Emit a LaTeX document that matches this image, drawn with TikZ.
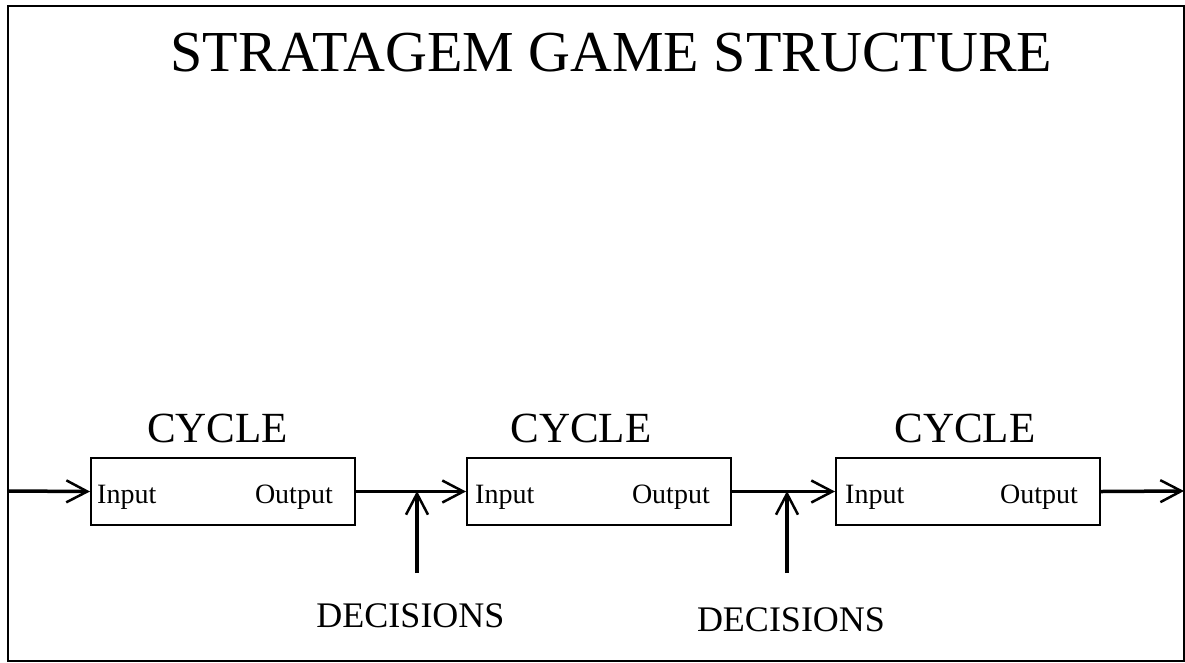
\documentclass[tikz,border=0pt]{standalone}
\usepackage{fontspec}
\setmainfont{Liberation Serif}
\usetikzlibrary{arrows.meta}
\begin{document}
\begin{tikzpicture}[x=1pt,y=-1pt,
  cyclebox/.style={draw,line width=2pt,minimum width=264pt,minimum height=67pt,inner sep=0pt},
  flow/.style={line width=3.5pt,-{Straight Barb[length=21pt,width=22pt,line width=2.5pt]}},
  lbl/.style={inner sep=0pt,font=\fontsize{28}{30}\selectfont},
  head/.style={inner sep=0pt,font=\fontsize{43}{45}\selectfont},
  dec/.style={inner sep=0pt,font=\fontsize{36}{38}\selectfont}]
\useasboundingbox (0,0) rectangle (1185,662);
\draw[line width=2pt] (7.5,6) rectangle (1183.5,660.5);
\node[inner sep=0pt,anchor=base,font=\fontsize{58}{60}\selectfont] (title) at (611.5,71) {STRATAGEM GAME STRUCTURE};
% boxes
\node[cyclebox] (b1) at (223,491.5) {};
\node[cyclebox] (b2) at (599,491.5) {};
\node[cyclebox] (b3) at (968,491.5) {};
% cycle labels
\node[head,anchor=base] (c1) at (217.5,442) {CYCLE};
\node[head,anchor=base] (c2) at (581,442) {CYCLE};
\node[head,anchor=base] (c3) at (965,442) {CYCLE};
% input/output
\node[lbl,anchor=base west] (i1) at (97,503) {Input};
\node[lbl,anchor=base east] (o1) at (333,503) {Output};
\node[lbl,anchor=base west] (i2) at (475,503) {Input};
\node[lbl,anchor=base east] (o2) at (710,503) {Output};
\node[lbl,anchor=base west] (i3) at (845,503) {Input};
\node[lbl,anchor=base east] (o3) at (1078,503) {Output};
% decisions
\node[dec,anchor=base] (d1) at (410.5,627) {DECISIONS};
\node[dec,anchor=base] (d2) at (791,631) {DECISIONS};
\coordinate (start) at (8,491);
\coordinate (finish) at (1184,491);
\coordinate (j1) at (417,491);
\coordinate (j2) at (787,491);
\coordinate (s1) at (417,573);
\coordinate (s2) at (787,573);
% flows
\draw[flow] (start) -- (b1.west);
\draw[flow] (b1.east) -- (b2.west);
\draw[flow] (b2.east) -- (b3.west);
\draw[flow] (b3.east) -- (finish);
\draw[flow] (s1) -- (j1);
\draw[flow] (s2) -- (j2);
\end{tikzpicture}
\end{document}
